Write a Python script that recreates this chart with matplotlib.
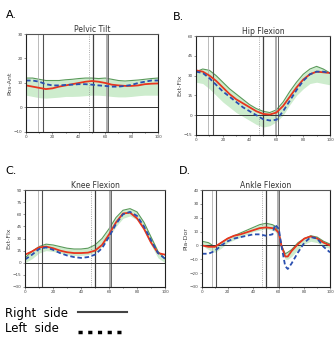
import numpy as np
import matplotlib.pyplot as plt
from matplotlib.lines import Line2D

# gait cycle (%) samples
x_std = [0, 5, 10, 15, 20, 25, 30, 35, 40, 45, 50, 55, 60, 65, 70, 75, 80, 85, 90, 95, 100]
x_ank = [0, 5, 10, 15, 20, 25, 30, 35, 40, 45, 50, 55, 57, 60, 62, 65, 67, 70, 75, 80, 85, 90, 95, 100]

# Pelvic tilt
pel_right = [9, 8.5, 8, 7.5, 7.8, 8.5, 9, 9.5, 10, 10.5, 10.8, 10.5, 10, 9.3, 9, 8.8, 8.8, 9, 9.5, 9.7, 9.8]
pel_left = [11, 11, 10.5, 9.5, 9, 9, 9.2, 9.3, 9.5, 9.5, 9.3, 9, 8.8, 8.5, 8.5, 8.8, 9.2, 10, 10.5, 11, 11]
pel_hi = [12, 12, 11.5, 11, 11, 11, 11.3, 11.5, 11.8, 12, 12, 11.8, 12, 11.5, 11, 10.8, 11, 11.2, 11.5, 11.8, 12]
pel_lo = [5, 4.5, 4, 3.8, 4, 4.2, 4.5, 4.5, 4.6, 4.8, 5, 5, 4.8, 4.5, 4.3, 4.3, 4.5, 4.8, 5, 5, 5]

# Hip flexion
hip_right = [34, 33, 30, 26, 21, 16, 12, 9, 6, 3, 1, 0.5, 2, 7, 14, 21, 27, 31, 33, 32.5, 32]
hip_left = [33, 32, 28, 23, 18, 14, 10, 6, 3, 0, -3, -4, -3.5, 3, 11, 19, 26, 31, 33, 33, 32]
hip_hi = [33, 35, 34, 30, 25, 20, 16, 12, 8, 5, 3, 2, 4, 10, 18, 25, 31, 35, 37, 35, 32]
hip_lo = [25, 24, 20, 15, 10, 6, 2, -1, -4, -7, -9, -8, -5, 0, 8, 15, 20, 24, 25, 24, 23]

# Knee flexion
kne_right = [10, 14, 19, 20, 18, 15, 13, 12, 12, 12.5, 15, 22, 35, 50, 61, 62, 55, 42, 25, 12, 10]
kne_left = [4, 10, 17, 19, 16, 12, 9, 7, 6, 7, 10, 18, 32, 48, 60, 63, 58, 45, 28, 12, 5]
kne_hi = [6, 14, 20, 23, 22, 20, 18, 17, 17, 18, 22, 30, 42, 56, 65, 67, 63, 50, 32, 14, 5]
kne_lo = [0, 5, 12, 15, 14, 12, 10, 9, 9, 10, 13, 20, 32, 45, 55, 58, 53, 40, 22, 6, 0]

# Ankle flexion
ank_right = [0, -1, -1, 2, 5, 7, 8, 9.5, 11, 12.5, 13, 12.5, 12, 9, 0, -8, -8, -4, 1, 5, 6.5, 5, 2, 0]
ank_left = [-6, -6, -4, 0, 3, 5, 6, 7, 8, 8, 7, 8, 15, 12, 0, -15, -17, -13, -5, 2, 6, 5, -1, -5]
ank_hi = [3, 2, -1, 2, 5, 7, 9, 11, 13, 15, 16, 15, 14, 10, 0, -6, -5, -3, 2, 5, 7, 6, 3, 1]
ank_lo = [0, -3, -5, -2, 2, 4, 6, 8, 10, 11, 12, 11, 10, 6, -2, -10, -10, -8, -3, 1, 3, 2, -1, -2]

# gait event markers (% cycle)
ev_pel = [9, 12.5, 47.5, 50.5, 61, 62]
ev_hip = [9, 13, 47, 50, 59.5, 61]
ev_kne = [9, 12, 47, 50, 61, 61.5]
ev_ank = [8, 11, 47, 50, 59.5, 60.5]

panels = [
    ("A.", "Pelvic Tilt", "Pos-Ant", x_std, pel_right, pel_left, pel_hi, pel_lo,
     (-10, 30), [-10, 0, 10, 20, 30], ev_pel, [0.078, 0.612, 0.395, 0.288]),
    ("B.", "Hip Flexion", "Ext-Flx", x_std, hip_right, hip_left, hip_hi, hip_lo,
     (-15, 60), [-15, 0, 15, 30, 45, 60], ev_hip, [0.587, 0.603, 0.401, 0.291]),
    ("C.", "Knee Flexion", "Ext-Flx", x_std, kne_right, kne_left, kne_hi, kne_lo,
     (-30, 90), [-30, -15, 0, 15, 30, 45, 60, 75, 90], ev_kne, [0.075, 0.156, 0.419, 0.285]),
    ("D.", "Ankle Flexion", "Pla-Dor", x_ank, ank_right, ank_left, ank_hi, ank_lo,
     (-30, 40), [-30, -20, -10, 0, 10, 20, 30, 40], ev_ank, [0.605, 0.156, 0.383, 0.285]),
]

fig = plt.figure(figsize=(3.34, 3.40), dpi=100)

ev_styles = [
    dict(color="#b0b0b0", lw=0.6, ls="-"),
    dict(color="#505050", lw=0.8, ls="-"),
    dict(color="#909090", lw=0.6, ls=":"),
    dict(color="#404040", lw=0.9, ls="-"),
    dict(color="#a0a0a0", lw=1.2, ls="-"),
    dict(color="#505050", lw=0.6, ls="-"),
]

for letter, title, ylab, xs, right, left, hi, lo, ylim, yt, events, pos in panels:
    ax = fig.add_axes(pos)
    ax.fill_between(xs, lo, hi, color="#cdeccd", lw=0)
    ax.plot(xs, hi, color="#5a9a5a", lw=0.8)
    for ev, st in zip(events, ev_styles):
        ax.axvline(ev, **st)
    ax.axhline(0, color="#333333", lw=0.7)
    ax.plot(xs, right, color="#e8351e", lw=1.3)
    ax.plot(xs, left, color="#2a4fb0", lw=1.3, ls=(0, (2.5, 1.5)))
    ax.set_xlim(0, 100)
    ax.set_ylim(*ylim)
    ax.set_xticks([0, 20, 40, 60, 80, 100])
    ax.set_xticks(np.arange(0, 101, 10), minor=True)
    ax.set_yticks(yt)
    ax.tick_params(labelsize=3, length=1.5, width=0.4, pad=1, colors="#444444")
    ax.tick_params(which="minor", length=1, width=0.4)
    for side, sp in ax.spines.items():
        sp.set_linewidth(0.8)
        sp.set_color("#555555" if side in ("top",) else "#222222")
    ax.set_title(title, fontsize=5.5, pad=1, color="#333333")
    ax.set_ylabel(ylab, fontsize=4.5, labelpad=1, color="#444444")
    fig.text(pos[0] - 0.06 if letter in ("A.", "C.") else pos[0] - 0.07,
             pos[1] + pos[3] + 0.055, letter, fontsize=8, va="center")

# legend
fig.text(0.015, 1 - 313 / 340, "Right  side", fontsize=8.5, va="center")
fig.text(0.015, 1 - 329 / 340, "Left  side", fontsize=8.5, va="center")
fig.add_artist(Line2D([78 / 334, 127 / 334], [1 - 312 / 340] * 2, color="#444444", lw=1.5))
fig.add_artist(Line2D([78 / 334, 121 / 334], [1 - 332 / 340] * 2, color="black", lw=2.5,
                      ls=(0, (1.2, 1.6))))

fig.savefig("out.png", dpi=100)
